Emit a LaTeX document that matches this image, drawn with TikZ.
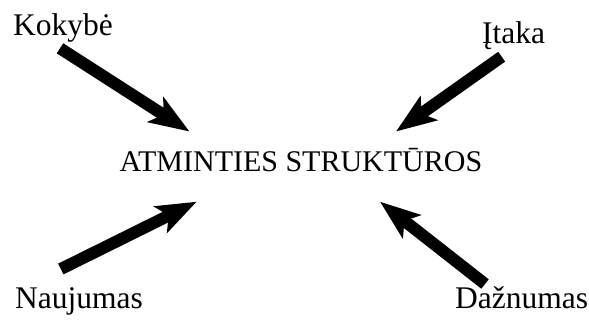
\documentclass[tikz,border=0pt]{standalone}
\usepackage{fontspec}
\setmainfont{Liberation Serif}
\usetikzlibrary{arrows.meta}
\begin{document}
\begin{tikzpicture}[x=1bp,y=-1bp,
  lbl/.style={inner sep=0pt,anchor=base west,font=\fontsize{31.5bp}{36bp}\selectfont},
  mainlbl/.style={inner sep=0pt,anchor=base,font=\fontsize{30bp}{36bp}\selectfont},
  bigarrow/.style={line width=12bp,-{Stealth[length=40bp,width=29bp,inset=9bp]}}]
\useasboundingbox (0,0) rectangle (589,320);
\node[lbl] (kok) at (13,35) {Kokybė};
\node[lbl] (ita) at (482,43.3) {Įtaka};
\node[lbl] (nau) at (15,308) {Naujumas};
\node[lbl] (daz) at (455,308) {Dažnumas};
\node[mainlbl] (atm) at (301,171.7) {ATMINTIES STRUKTŪROS};
\coordinate (t1) at (60,48.3);  \coordinate (h1) at (189.5,131.5);
\coordinate (t2) at (501.7,56.7); \coordinate (h2) at (396,131.5);
\coordinate (t3) at (60.8,269); \coordinate (h3) at (196.7,201.7);
\coordinate (t4) at (485,284); \coordinate (h4) at (380,201.7);
\draw[bigarrow] (t1) -- (h1);
\draw[bigarrow] (t2) -- (h2);
\draw[bigarrow] (t3) -- (h3);
\draw[bigarrow] (t4) -- (h4);
\end{tikzpicture}
\end{document}
